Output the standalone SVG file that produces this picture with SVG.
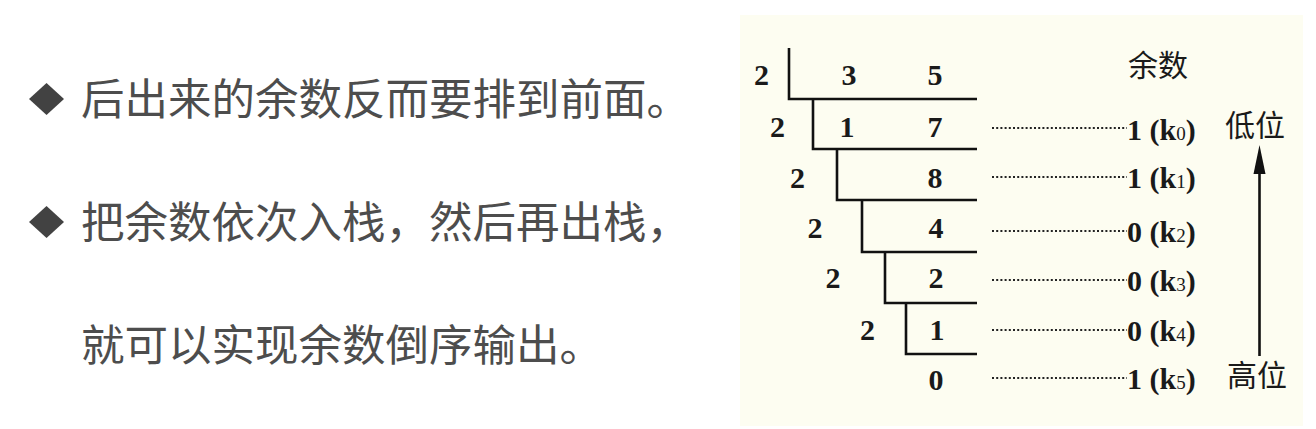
<svg xmlns="http://www.w3.org/2000/svg" width="1316" height="429" viewBox="0 0 1316 429">
<defs>
<style>
.t{font-family:"Noto Sans CJK SC","Noto Sans",sans-serif;font-size:43.5px;fill:#4d4d4d}
.d{font-family:"Liberation Serif","Times New Roman",serif;font-size:30px;font-weight:bold;fill:#1a1a1a;text-anchor:middle}
.r{font-family:"Liberation Serif","Times New Roman",serif;font-size:30px;font-weight:bold;fill:#1a1a1a}
.c{font-family:"Noto Sans CJK SC",sans-serif;font-size:30px;fill:#1a1a1a}
.ln{stroke:#111;stroke-width:2.6;fill:none}
.dot{stroke:#222;stroke-width:2;stroke-dasharray:2 2.2;fill:none}
.s{font-size:19px;font-weight:normal}
</style>
</defs>
<rect width="1316" height="429" fill="#ffffff"/>
<g id="bullets">
<polygon points="46.5,83 64,99 46.5,115 29,99" fill="#424242"/>
<polygon points="46.5,206 64,222 46.5,238 29,222" fill="#424242"/>
<text class="t" x="81" y="115">后出来的余数反而要排到前面。</text>
<text class="t" x="81" y="238">把余数依次入栈，然后再出栈，</text>
<text class="t" x="81" y="361">就可以实现余数倒序输出。</text>
</g>
<g id="panel">
<rect x="740" y="15" width="563" height="411" fill="#fdfdf1"/>
</g>
<g id="division">
<path class="ln" d="M789,48 V99 H977 M813,99 V149 H977 M837,149 V200 H977 M862,200 V252 H977 M885,252 V303 H977 M906,303 V354 H977"/>
<text class="d" x="761.5" y="85">2</text>
<text class="d" x="849" y="85">3</text>
<text class="d" x="935" y="85">5</text>
<text class="d" x="777.5" y="137">2</text>
<text class="d" x="847" y="137">1</text>
<text class="d" x="935" y="137">7</text>
<text class="d" x="797.5" y="188">2</text>
<text class="d" x="935" y="188">8</text>
<text class="d" x="815" y="238">2</text>
<text class="d" x="936" y="238">4</text>
<text class="d" x="833" y="288">2</text>
<text class="d" x="936" y="288">2</text>
<text class="d" x="867.5" y="340">2</text>
<text class="d" x="937" y="340">1</text>
<text class="d" x="936" y="390">0</text>
</g>
<g id="connectors">
<path class="dot" d="M992,128 H1127 M992,177 H1127 M992,231 H1127 M992,280 H1127 M992,330 H1127 M992,378 H1127"/>
<line class="ln" x1="1259.5" y1="356" x2="1259.5" y2="170" stroke-width="3"/>
<polygon points="1259.5,145 1265.5,174 1253.5,174" fill="#111"/>
</g>
<g id="remainders">
<text class="c" x="1128" y="76">余数</text>
<text class="r" x="1127" y="140">1 (k<tspan class="s">0</tspan>)</text>
<text class="r" x="1127" y="188">1 (k<tspan class="s">1</tspan>)</text>
<text class="r" x="1127" y="242">0 (k<tspan class="s">2</tspan>)</text>
<text class="r" x="1127" y="291">0 (k<tspan class="s">3</tspan>)</text>
<text class="r" x="1127" y="341">0 (k<tspan class="s">4</tspan>)</text>
<text class="r" x="1127" y="389">1 (k<tspan class="s">5</tspan>)</text>
<text class="c" x="1225" y="136">低位</text>
<text class="c" x="1227" y="386">高位</text>
</g>
</svg>
